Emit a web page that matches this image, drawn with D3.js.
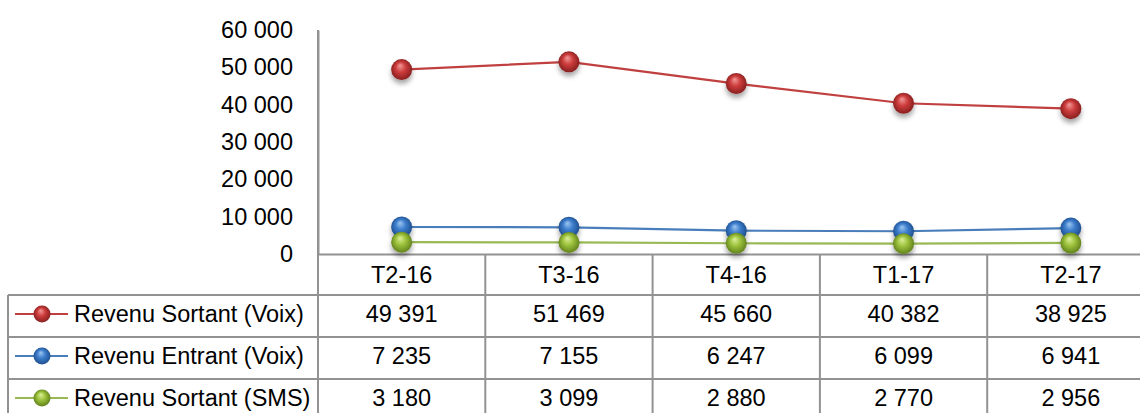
<!DOCTYPE html>
<html><head><meta charset="utf-8">
<script src="https://cdn.jsdelivr.net/npm/d3@7"></script>
<style>
html,body{margin:0;padding:0;background:#fff;}
svg{display:block;font-family:"Liberation Sans",Arial,sans-serif;}
</style></head>
<body>
<script>
const categories = ["T2-16","T3-16","T4-16","T1-17","T2-17"];
const seriesNames = ["Revenu Sortant (Voix)","Revenu Entrant (Voix)","Revenu Sortant (SMS)"];
const sortantVoix = [49391,51469,45660,40382,38925];
const entrantVoix = [7235,7155,6247,6099,6941];
const sortantSMS = [3180,3099,2880,2770,2956];
const yTicks = [0,10000,20000,30000,40000,50000,60000];

const seriesData = [sortantVoix, entrantVoix, sortantSMS];
const lineColors = ["#c0403f","#4a7ebb","#98b954"];
const ballColors = [
  {hi:"#f29a98", mid:"#cc3b3b", dark:"#7e1c1c"},
  {hi:"#9cc7f0", mid:"#3b7ccc", dark:"#1c4a86"},
  {hi:"#dcef9a", mid:"#9cc23c", dark:"#5a7a18"}
];

const W=1140,H=413;
const svg=d3.select("body").append("svg").attr("width",W).attr("height",H);
const defs=svg.append("defs");
ballColors.forEach((c,i)=>{
  const g=defs.append("radialGradient").attr("id","ball"+i).attr("cx","50%").attr("cy","50%").attr("r","55%").attr("fx","42%").attr("fy","30%");
  g.append("stop").attr("offset","0%").attr("stop-color",c.hi);
  g.append("stop").attr("offset","45%").attr("stop-color",c.mid);
  g.append("stop").attr("offset","100%").attr("stop-color",c.dark);
});
const f=defs.append("filter").attr("id","sh").attr("x","-50%").attr("y","-50%").attr("width","200%").attr("height","220%");
f.append("feDropShadow").attr("dx",0).attr("dy",4).attr("stdDeviation",2.5).attr("flood-color","#000").attr("flood-opacity",0.35);

const x=d3.scaleBand().domain(categories).range([318,1154.5]).paddingInner(0).paddingOuter(0);
const y=d3.scaleLinear().domain([0,60000]).range([254,30]);
const loc=d3.formatLocale({decimal:",",thousands:"\u00a0",grouping:[3],currency:["","€"]});
const fmt=loc.format(",d");

const fontSize=23.5;
const grid="#929292";

// y axis
const yAxis=d3.axisLeft(y).tickValues(yTicks).tickFormat(fmt).tickSize(0).tickPadding(25);
const ga=svg.append("g").attr("transform","translate(318,0)").call(yAxis);
ga.select(".domain").attr("stroke",grid).attr("stroke-width",2);
ga.selectAll("text").attr("font-size",fontSize).attr("fill","#000").attr("font-family","'Liberation Sans',Arial,sans-serif");

// table
const rowTop=[255,295,337,379,421];
const tbl=svg.append("g").attr("stroke",grid).attr("stroke-width",2).attr("fill","none");
// horizontal lines
tbl.append("line").attr("x1",318).attr("x2",W).attr("y1",254.5).attr("y2",254.5);
[295,337,379].forEach(yy=>tbl.append("line").attr("x1",8).attr("x2",W).attr("y1",yy).attr("y2",yy));
// vertical lines
tbl.append("line").attr("x1",8).attr("x2",8).attr("y1",295).attr("y2",H);
categories.forEach(c=>{
  tbl.append("line").attr("x1",x(c)).attr("x2",x(c)).attr("y1",254).attr("y2",H);
});
tbl.append("line").attr("x1",318).attr("x2",318).attr("y1",30).attr("y2",H);

// header labels
svg.append("g").selectAll("text").data(categories).join("text")
  .attr("x",d=>x(d)+x.bandwidth()/2).attr("y",275).attr("dy","0.35em")
  .attr("text-anchor","middle").attr("font-size",fontSize).text(d=>d);

// data rows
seriesData.forEach((vals,si)=>{
  const cy=(rowTop[si+1]+rowTop[si+2])/2 - 2;
  svg.append("g").selectAll("text").data(vals).join("text")
    .attr("x",(d,i)=>x(categories[i])+x.bandwidth()/2).attr("y",cy).attr("dy","0.35em")
    .attr("text-anchor","middle").attr("font-size",fontSize).text(d=>fmt(d));
  // legend key
  const lg=svg.append("g");
  lg.append("line").attr("x1",15).attr("x2",68).attr("y1",cy).attr("y2",cy).attr("stroke",lineColors[si]).attr("stroke-width",2);
  lg.append("circle").attr("cx",42).attr("cy",cy).attr("r",8.5).attr("fill","url(#ball"+si+")");
  lg.append("text").attr("x",74).attr("y",cy).attr("dy","0.35em").attr("font-size",fontSize).text(seriesNames[si]);
});

// lines and markers
const line=d3.line().x((d,i)=>x(categories[i])+x.bandwidth()/2).y(d=>y(d));
seriesData.forEach((vals,si)=>{
  svg.append("path").datum(vals).attr("d",line).attr("fill","none").attr("stroke",lineColors[si]).attr("stroke-width",2.2);
});
seriesData.forEach((vals,si)=>{
  svg.append("g").selectAll("circle").data(vals).join("circle")
    .attr("cx",(d,i)=>x(categories[i])+x.bandwidth()/2).attr("cy",d=>y(d)).attr("r",10.5)
    .attr("fill","url(#ball"+si+")").attr("filter","url(#sh)");
});
</script>
</body></html>
